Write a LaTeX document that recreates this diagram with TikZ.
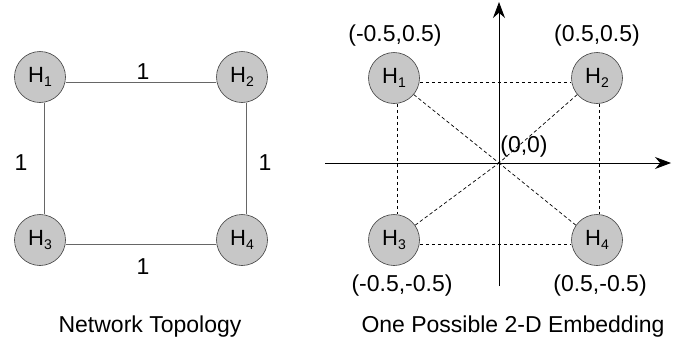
\documentclass[tikz,border=0pt]{standalone}
\usepackage{fontspec}
\setmainfont{Liberation Sans}
\usetikzlibrary{arrows.meta}
\tikzset{
  host/.style={circle, draw=black!75, line width=0.6pt, fill=black!22,
               minimum size=51pt, inner sep=0pt, font=\fontsize{22}{22}\selectfont},
  link/.style={draw=black!60, line width=0.8pt},
  emb/.style={draw=black, line width=0.7pt, dash pattern=on 3.5pt off 2.5pt},
  axis/.style={draw=black, line width=0.9pt, -{Stealth[length=16pt,width=12pt]}},
  lbl/.style={font=\fontsize{23}{23}\selectfont, inner sep=0pt},
}
\newcommand{\hst}[1]{H\raisebox{-0.4ex}{\fontsize{14}{14}\selectfont #1}}
\begin{document}
\begin{tikzpicture}[x=1pt, y=-1pt]
\useasboundingbox (0,0) rectangle (699,343);

% ---- network topology ----
\node[host] (a1) at (40,77)  {\hst{1}};
\node[host] (a2) at (242,77) {\hst{2}};
\node[host] (a3) at (40,240) {\hst{3}};
\node[host] (a4) at (242,240) {\hst{4}};

\draw[link] ([yshift=-5pt]a1.east) -- ([yshift=-5pt]a2.west);
\draw[link] ([yshift=-4pt]a3.east) -- ([yshift=-4pt]a4.west);
\draw[link] ([xshift=4pt]a1.south) -- ([xshift=4pt]a3.north);
\draw[link] ([xshift=4pt]a2.south) -- ([xshift=4pt]a4.north);

\node[lbl] (w12) at (143,72)  {1};
\node[lbl] (w34) at (143,267) {1};
\node[lbl] (w13) at (21,163)  {1};
\node[lbl] (w24) at (265,163) {1};

\node[lbl] (cap1) at (150,327) {Network Topology};

% ---- 2-D embedding ----
\coordinate (o) at (499,163);
\coordinate (xl) at (325,163);
\coordinate (xr) at (671,163);
\coordinate (yb) at (499,286);
\coordinate (yt) at (499,2);
\draw[axis] (xl) -- (xr);
\draw[axis] (yb) -- (yt);

\node[host] (b1) at (394,78)  {\hst{1}};
\node[host] (b2) at (597,78)  {\hst{2}};
\node[host] (b3) at (394,240) {\hst{3}};
\node[host] (b4) at (597,240) {\hst{4}};

\draw[emb] ([yshift=-4pt]b1.east) -- ([yshift=-4pt]b2.west);
\draw[emb] ([yshift=-4pt]b3.east) -- ([yshift=-4pt]b4.west);
\draw[emb] ([xshift=3pt]b1.south) -- ([xshift=3pt]b3.north);
\draw[emb] ([xshift=2pt]b2.south) -- ([xshift=2pt]b4.north);
\draw[emb] (b1.-40) -- (o);
\draw[emb] (b2.-140) -- (o);
\draw[emb] (b3.35) -- (o);
\draw[emb] (b4.145) -- (o);

\node[lbl] (p1) at (395,36)  {(-0.5,0.5)};
\node[lbl] (p2) at (597,36)  {(0.5,0.5)};
\node[lbl] (p3) at (402,286) {(-0.5,-0.5)};
\node[lbl] (p4) at (600,286) {(0.5,-0.5)};
\node[lbl] (p0) at (524,147) {(0,0)};

\node[lbl] (cap2) at (513,327) {One Possible 2-D Embedding};
\end{tikzpicture}
\end{document}
